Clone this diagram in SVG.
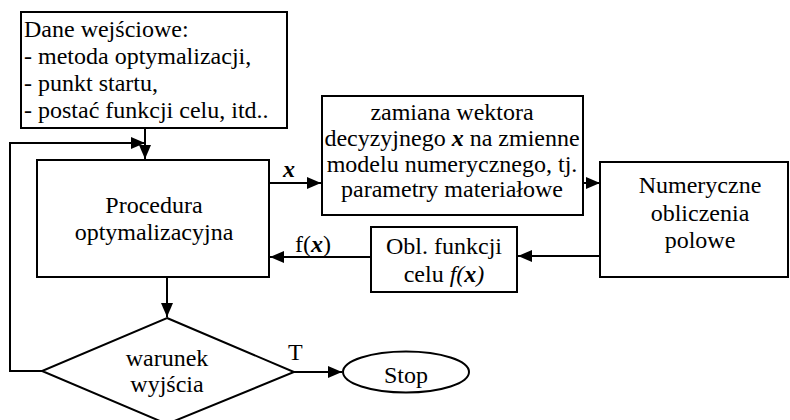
<svg xmlns="http://www.w3.org/2000/svg" width="790" height="420" viewBox="0 0 790 420" font-family="Liberation Serif, Times New Roman, DejaVu Serif, serif" font-size="24">
<style>
.box{fill:#fff;stroke:#000;stroke-width:2}
.ln{fill:none;stroke:#000;stroke-width:2}
.c{text-anchor:middle}
.bx{font-weight:bold;font-style:italic}
.it{font-style:italic}
</style>
<defs>
<marker id="ah" markerUnits="userSpaceOnUse" markerWidth="16" markerHeight="14" refX="14" refY="6" orient="auto">
<path d="M0,0 L14,6 L0,12 Z" fill="#000"/>
</marker>
</defs>
<g id="connectors">
<path class="ln" d="M145,128 V159" marker-end="url(#ah)"/>
<path class="ln" d="M42,371 H10 V143 H145" marker-end="url(#ah)"/>
<path class="ln" d="M269,183 H321" marker-end="url(#ah)"/>
<path class="ln" d="M583,183 H600" marker-end="url(#ah)"/>
<path class="ln" d="M600,256 H518" marker-end="url(#ah)"/>
<path class="ln" d="M371,257 H270" marker-end="url(#ah)"/>
<path class="ln" d="M167,277 V317" marker-end="url(#ah)"/>
<path class="ln" d="M294,372 H342" marker-end="url(#ah)"/>
<text x="283" y="177" class="bx">x</text>
<text x="295" y="252">f(<tspan class="bx">x</tspan>)</text>
<text x="288" y="360">T</text>
</g>
<g id="input">
<rect class="box" x="21" y="12" width="266" height="116"/>
<text x="24" y="37">Dane wejściowe:</text>
<text x="24" y="64">- metoda optymalizacji,</text>
<text x="24" y="91">- punkt startu,</text>
<text x="24" y="118">- postać funkcji celu, itd..</text>
</g>
<g id="procedura">
<rect class="box" x="37" y="160" width="232" height="117"/>
<text x="154" y="213" class="c">Procedura</text>
<text x="154" y="240" class="c">optymalizacyjna</text>
</g>
<g id="zamiana">
<rect class="box" x="322" y="96" width="261" height="119"/>
<text x="452" y="120" class="c">zamiana wektora</text>
<text x="452" y="146" class="c">decyzyjnego <tspan class="bx">x</tspan> na zmienne</text>
<text x="452" y="172" class="c">modelu numerycznego, tj.</text>
<text x="452" y="197" class="c">parametry materiałowe</text>
</g>
<g id="numeryczne">
<rect class="box" x="600" y="162" width="188" height="115"/>
<text x="700" y="193" class="c">Numeryczne</text>
<text x="700" y="221" class="c">obliczenia</text>
<text x="700" y="248" class="c">polowe</text>
</g>
<g id="obl">
<rect class="box" x="371" y="227" width="146" height="65"/>
<text x="444" y="254" class="c">Obl. funkcji</text>
<text x="444" y="282" class="c">celu <tspan class="it">f(</tspan><tspan class="bx">x</tspan><tspan class="it">)</tspan></text>
</g>
<g id="warunek">
<path class="box" d="M167,318 L294,372 L167,424 L42,371 Z"/>
<text x="167" y="366" class="c">warunek</text>
<text x="167" y="392" class="c">wyjścia</text>
</g>
<g id="stop">
<ellipse class="box" cx="406" cy="372" rx="63" ry="20.5"/>
<text x="406" y="383" class="c">Stop</text>
</g>
</svg>
